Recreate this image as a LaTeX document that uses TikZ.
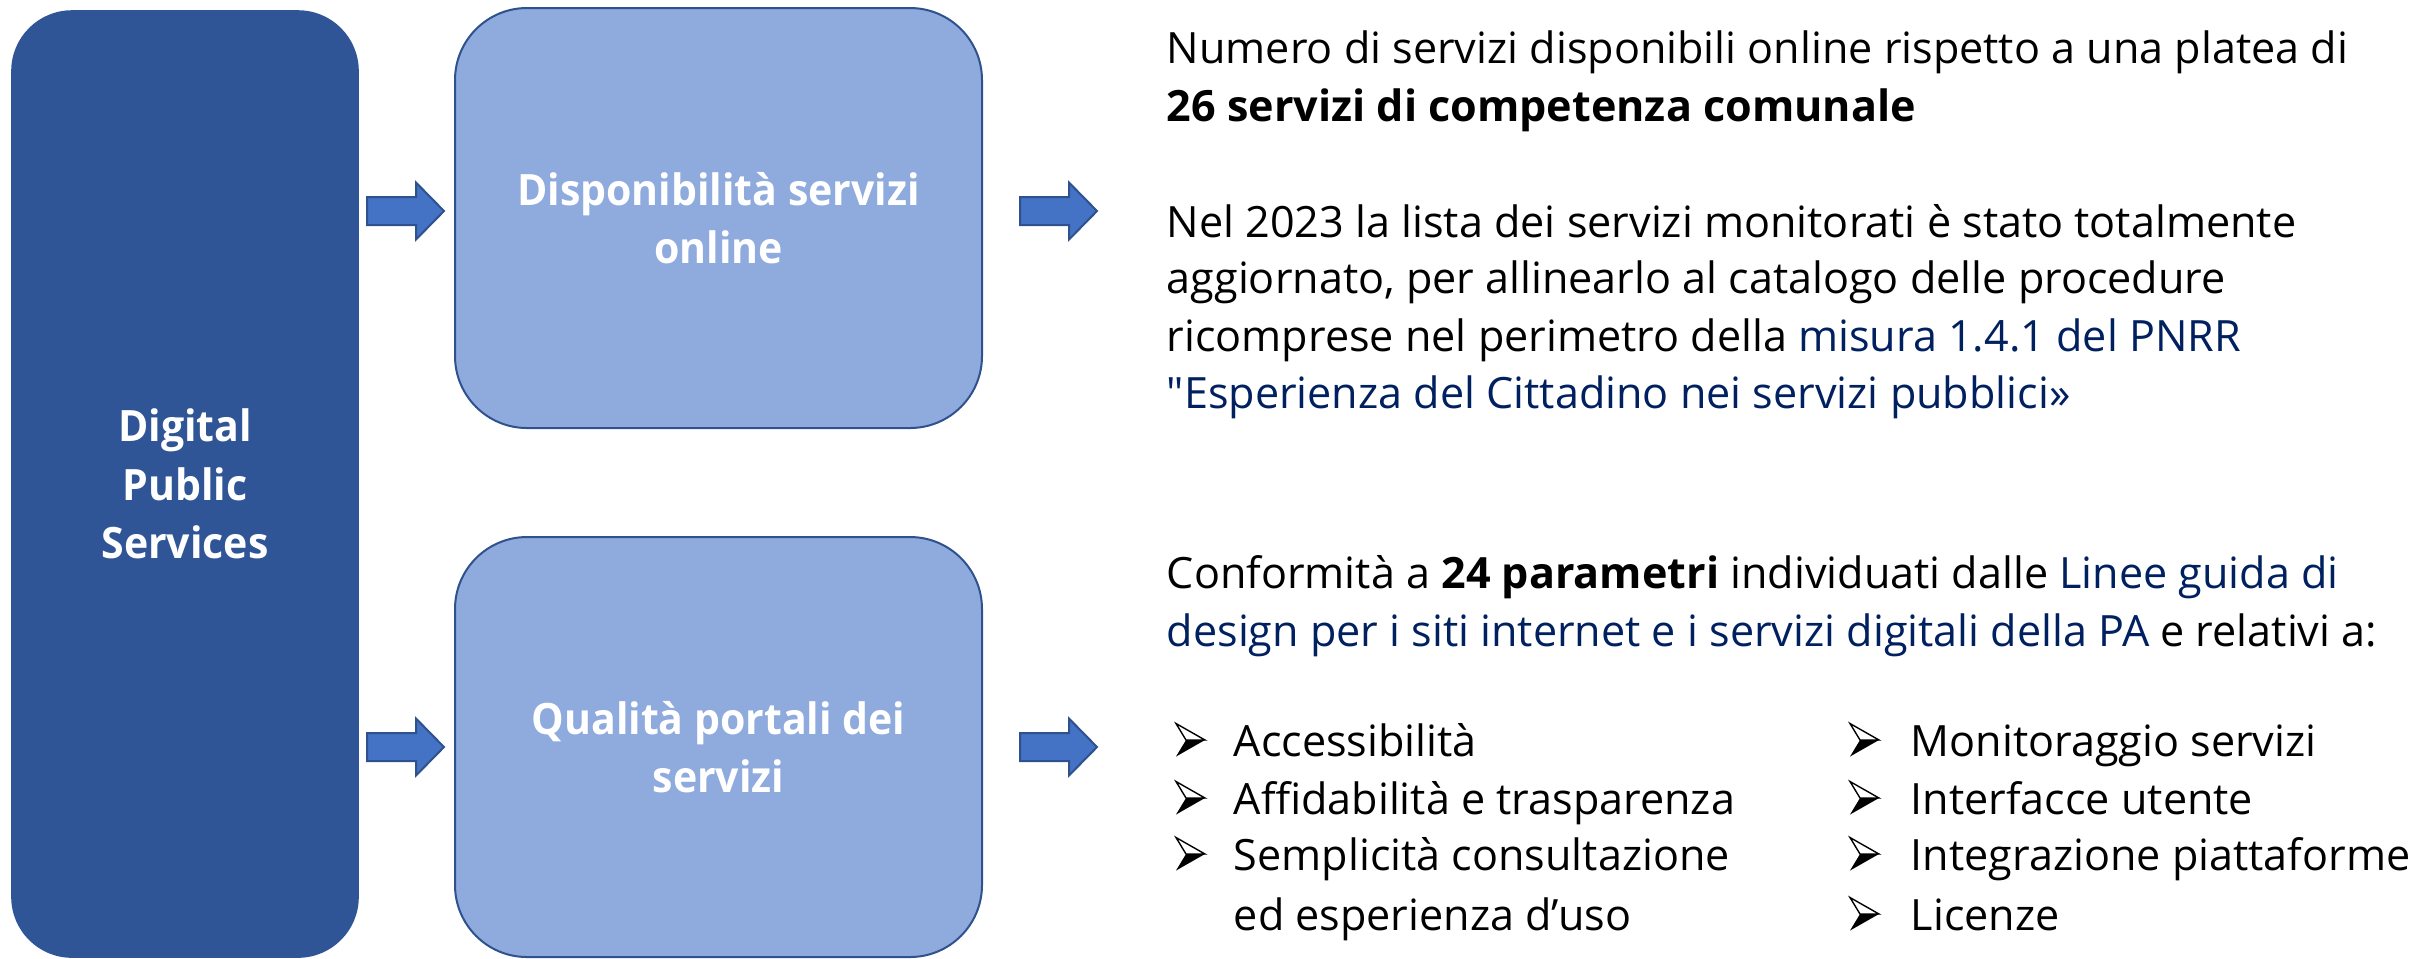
\documentclass[tikz,border=0pt]{standalone}
\usepackage{fontspec}
\setmainfont{Open Sans}
\newfontfamily\boxfont{Open Sans}[FakeStretch=0.95]
\definecolor{darkbox}{HTML}{2F5597}
\definecolor{lightbox}{HTML}{8FAADC}
\definecolor{boxline}{HTML}{2F528F}
\definecolor{arrowfill}{HTML}{4472C4}
\definecolor{navy}{HTML}{002060}
\newcommand{\straightquote}{{\XeTeXglyph\XeTeXcharglyph"22\relax}}
\begin{document}
\begin{tikzpicture}[x=0.25pt,y=-0.25pt,
  boxtext/.style={text=white, font=\boxfont\bfseries\fontsize{10.8}{14.6}\selectfont, align=center, inner sep=0pt},
  mainbox/.style={boxtext, fill=darkbox, draw=darkbox, rounded corners=15pt, minimum width=86.5pt, minimum height=236.5pt},
  subbox/.style={boxtext, fill=lightbox, draw=boxline, line width=0.5pt, rounded corners=18pt, minimum width=131.75pt, minimum height=105pt},
  blockarrow/.style={fill=arrowfill, draw=boxline, line width=0.5pt, line join=miter},
  txt/.style={anchor=base west, inner sep=0pt, font=\fontsize{10.78}{14}\selectfont, text=black},
  bul/.pic={\draw[line width=0.35pt, fill=white, line join=miter] (0,-16.5) -- (29,0) -- (10,0) -- cycle;
            \fill[black] (10,0) -- (29,0) -- (0,16.5) -- cycle;}
]
\useasboundingbox (0,0) rectangle (2420,958);

% boxes
\node[mainbox] (dps) at (185,484) {Digital\\Public\\Services};
\node[subbox] (disp) at (718.5,218) {Disponibilità servizi\\online};
\node[subbox] (qual) at (718.5,747) {Qualità portali dei\\servizi};

% block arrows
\coordinate (a1) at (367,211);
\coordinate (a2) at (1020,211);
\coordinate (a3) at (367,747);
\coordinate (a4) at (1020,747);
\foreach \a in {a1,a2,a3,a4}{
  \draw[blockarrow] (\a) ++(0,-14) -- ++(49,0) -- ++(0,-14.5) -- ++(28,28.5) -- ++(-28,28.5) -- ++(0,-14.5) -- ++(-49,0) -- cycle;
}

% upper text
\node[txt] (t1) at (1166,63) {Numero di servizi disponibili online rispetto a una platea di};
\node[txt] (t2) at (1166,121) {\bfseries 26 servizi di competenza comunale};
\node[txt] (t3) at (1166,237) {Nel 2023 la lista dei servizi monitorati è stato totalmente};
\node[txt] (t4) at (1166,293) {aggiornato, per allinearlo al catalogo delle procedure};
\node[txt] (t5) at (1166,351) {ricomprese nel perimetro della \textcolor{navy}{misura 1.4.1 del PNRR}};
\node[txt] (t6) at (1166,408) {\textcolor{navy}{\straightquote Esperienza del Cittadino nei servizi pubblici»}};

% lower text
\node[txt] (t7) at (1166,588) {Conformità a \textbf{24 parametri} individuati dalle \textcolor{navy}{Linee guida di}};
\node[txt] (t8) at (1166,646) {\textcolor{navy}{design per i siti internet e i servizi digitali della PA} e relativi a:};

% bullets
\pic at (1176,740) {bul};
\pic at (1176,798) {bul};
\pic at (1176,854) {bul};
\pic at (1850,740) {bul};
\pic at (1850,798) {bul};
\pic at (1850,854) {bul};
\pic at (1850,914) {bul};

\node[txt] (b1) at (1233,756) {Accessibilità};
\node[txt] (b2) at (1233,814) {Affidabilità e trasparenza};
\node[txt] (b3) at (1233,870) {Semplicità consultazione};
\node[txt] (b3b) at (1233,930) {ed esperienza d’uso};
\node[txt] (c1) at (1910,756) {Monitoraggio servizi};
\node[txt] (c2) at (1910,814) {Interfacce utente};
\node[txt] (c3) at (1910,870) {Integrazione piattaforme};
\node[txt] (c4) at (1910,930) {Licenze};
\end{tikzpicture}
\end{document}
